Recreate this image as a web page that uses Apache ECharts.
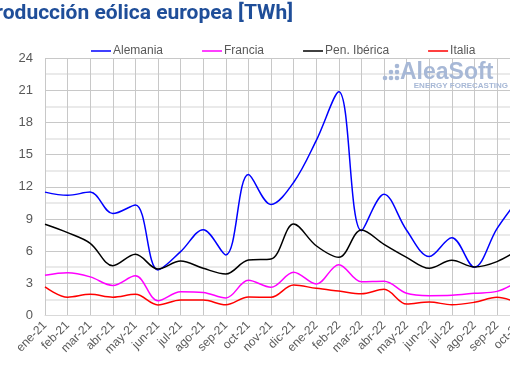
<!DOCTYPE html>
<html>
<head>
<meta charset="utf-8">
<script src="https://cdn.jsdelivr.net/npm/echarts@6/dist/echarts.min.js"></script>
<style>
html,body{margin:0;padding:0;background:#fff;}
#chart{width:510px;height:382px;}
</style>
</head>
<body>
<div id="chart"></div>
<script>
var categories = ["ene-21","feb-21","mar-21","abr-21","may-21","jun-21","jul-21","ago-21","sep-21","oct-21","nov-21","dic-21","ene-22","feb-22","mar-22","abr-22","may-22","jun-22","jul-22","ago-22","sep-22","oct-22"];
var alemania = [11.5,11.2,11.5,9.5,10.3,4.25,5.95,8.0,5.65,13.15,10.35,12.4,16.3,20.85,7.9,11.3,7.95,5.5,7.25,4.5,8.1,11.0];
var francia = [3.75,3.98,3.6,2.8,3.7,1.38,2.22,2.15,1.63,3.28,2.63,4.03,2.94,4.74,3.15,3.2,2.07,1.85,1.88,2.07,2.25,3.3];
var penIberica = [8.5,7.72,6.73,4.64,5.7,4.33,5.08,4.4,3.87,5.17,5.27,8.53,6.5,5.42,7.97,6.63,5.42,4.4,5.14,4.52,5.02,6.2];
var italia = [2.66,1.7,1.97,1.7,1.97,0.98,1.44,1.44,1.0,1.72,1.7,2.84,2.53,2.28,2.03,2.44,1.07,1.26,1.0,1.23,1.7,1.1];
var yTicks = [0,3,6,9,12,15,18,21,24];

var font = "Liberation Sans";
var chart = echarts.init(document.getElementById('chart'));
function mk(name, data, color){
  return {name:name, type:'line', data:data, smooth:0.35, symbol:'none',
    lineStyle:{color:color, width:1.5}, itemStyle:{color:color}};
}
chart.setOption({
  animation:false,
  backgroundColor:'#fff',
  grid:{left:45, top:58, right:-9.6, bottom:66.5, containLabel:false, outerBoundsMode:'none'},
  legend:{left:86, top:40, itemWidth:20, itemHeight:1.5, itemGap:39, icon:'rect',
    textStyle:{fontFamily:font, fontSize:12, color:'#595959', padding:[0,0,0,-3]},
    data:['Alemania','Francia','Pen. Ibérica','Italia']},
  xAxis:{type:'category', data:categories, boundaryGap:false,
    axisLine:{lineStyle:{color:'#d9d9d9'}}, axisTick:{show:false},
    axisLabel:{rotate:45, interval:0, margin:8, fontFamily:font, fontSize:12, color:'#595959'},
    splitLine:{show:true, interval:0, lineStyle:{color:'#c8c8c8'}}},
  yAxis:{type:'value', min:yTicks[0], max:yTicks[yTicks.length-1], interval:3,
    axisLine:{show:false}, axisTick:{show:false},
    axisLabel:{margin:12, fontFamily:font, fontSize:13, color:'#595959'},
    splitLine:{lineStyle:{color:'#c8c8c8'}},
    minorTick:{show:false, splitNumber:2},
    minorSplitLine:{show:true, lineStyle:{color:'#e4e4e4', width:1.5}}},
  series:[mk('Alemania',alemania,'#0000FF'), mk('Francia',francia,'#FF00FF'),
          mk('Pen. Ibérica',penIberica,'#000000'), mk('Italia',italia,'#FF0000')],
  graphic:[
    {type:'text', x:293, y:3, z:10, style:{text:'Producción eólica europea [TWh]', textAlign:'right', textVerticalAlign:'top',
      font:'bold 21px Roboto', fill:'#1F4E99'}},
    {type:'text', x:400, y:61, z:10, style:{text:'AleaSoft', font:'bold 23px "Liberation Sans"', fill:'#A7B8D6'}},
    {type:'text', x:508, y:82, z:10, style:{text:'ENERGY FORECASTING', textAlign:'right', font:'bold 8px "Liberation Sans"', fill:'#A7B8D6'}},
    {type:'circle', z:10, shape:{cx:385, cy:78, r:2.3}, style:{fill:'#A7B8D6'}},
    {type:'circle', z:10, shape:{cx:391, cy:72, r:2.3}, style:{fill:'#A7B8D6'}},
    {type:'circle', z:10, shape:{cx:391, cy:78, r:2.3}, style:{fill:'#A7B8D6'}},
    {type:'circle', z:10, shape:{cx:397, cy:66, r:2.3}, style:{fill:'#A7B8D6'}},
    {type:'circle', z:10, shape:{cx:397, cy:72, r:2.3}, style:{fill:'#A7B8D6'}},
    {type:'circle', z:10, shape:{cx:397, cy:78, r:2.3}, style:{fill:'#A7B8D6'}}
  ]
});
</script>
</body>
</html>
